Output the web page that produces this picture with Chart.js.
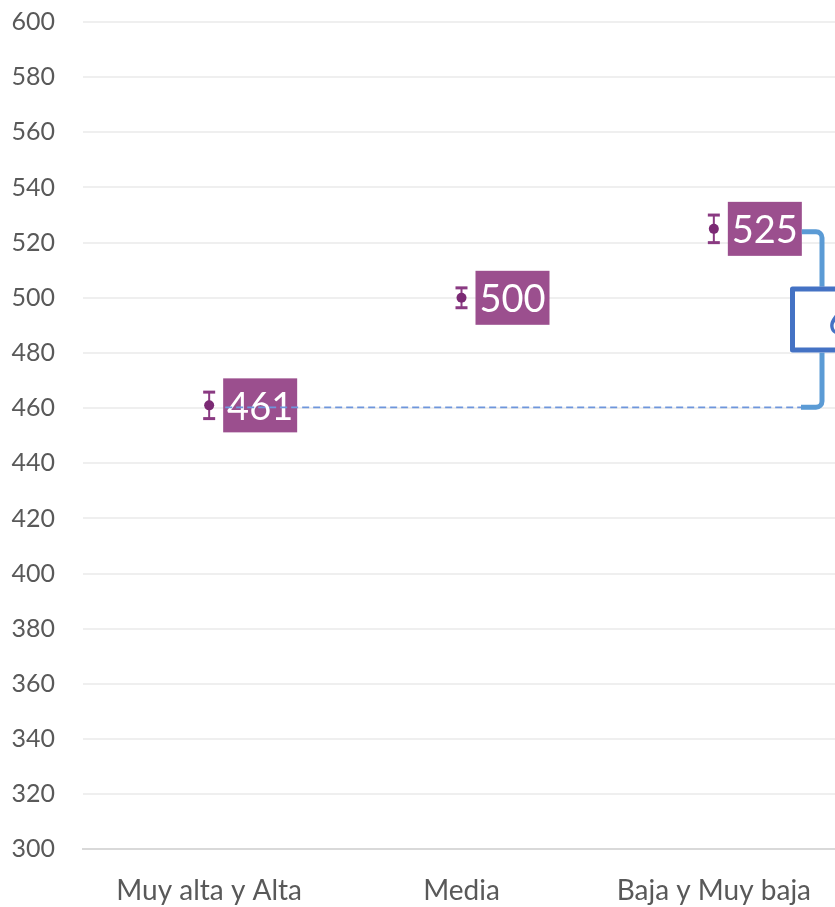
<!DOCTYPE html>
<html>
<head>
<meta charset="utf-8">
<script src="https://cdn.jsdelivr.net/npm/chart.js@4.4.1/dist/chart.umd.min.js"></script>
<style>
  html, body { margin: 0; padding: 0; background: #ffffff; overflow: hidden; }
  #wrap { position: relative; width: 835px; height: 907px; overflow: hidden; }
  #c { position: absolute; left: 0; top: -21px; }
</style>
</head>
<body>
<div id="wrap"><canvas id="c" width="845" height="960"></canvas></div>
<script>
// ---- data ----
const categories = ["Muy alta y Alta", "Media", "Baja y Muy baja"];
const means = [461, 500, 525];
const errors = [4.8, 3.6, 5.0];
const dataLabels = ["461", "500", "525"];
const diffLabel = "64";
const yMin = 300, yMax = 600, yStep = 20;

const annotPlugin = {
  id: 'annot',
  beforeDatasetsDraw(chart) {
    const ctx = chart.ctx;
    const meta = chart.getDatasetMeta(0);
    const ys = chart.scales.y;
    ctx.save();
    ctx.strokeStyle = '#8a3a82';
    meta.data.forEach((pt, i) => {
      const x = pt.x;
      const yt = ys.getPixelForValue(means[i] + errors[i]);
      const yb = ys.getPixelForValue(means[i] - errors[i]);
      ctx.lineWidth = 2;
      ctx.beginPath(); ctx.moveTo(x, yt); ctx.lineTo(x, yb); ctx.stroke();
      ctx.lineWidth = 3;
      ctx.beginPath(); ctx.moveTo(x - 6, yt); ctx.lineTo(x + 6, yt); ctx.stroke();
      ctx.beginPath(); ctx.moveTo(x - 6, yb); ctx.lineTo(x + 6, yb); ctx.stroke();
    });
    ctx.restore();
  },
  afterDatasetsDraw(chart) {
    const ctx = chart.ctx;
    const meta = chart.getDatasetMeta(0);
    const ys = chart.scales.y;
    ctx.save();
    // data labels
    const boxes = [];
    meta.data.forEach((pt, i) => {
      const bx = pt.x + 14, bw = 74, bh = 54;
      const by = pt.y - bh / 2;
      ctx.fillStyle = '#9b4f8e';
      ctx.fillRect(bx, by, bw, bh);
      ctx.fillStyle = '#ffffff';
      ctx.font = '38px Lato';
      ctx.textAlign = 'center';
      ctx.textBaseline = 'middle';
      ctx.fillText(dataLabels[i], bx + bw / 2, pt.y + 2);
      boxes.push({ x: bx, y: by, w: bw, h: bh });
    });
    // dashed reference line from first label
    const yLow = ys.getPixelForValue(means[0]) + 2;
    const yHigh = ys.getPixelForValue(means[2]) + 3;
    const xv = 822;
    ctx.strokeStyle = '#6e96dc';
    ctx.lineWidth = 1.6;
    ctx.setLineDash([7, 4]);
    ctx.beginPath();
    ctx.moveTo(boxes[0].x + 2, yLow);
    ctx.lineTo(801, yLow);
    ctx.stroke();
    ctx.setLineDash([]);
    // bracket
    ctx.strokeStyle = '#5b9bd5';
    ctx.lineWidth = 5;
    ctx.lineJoin = 'round';
    const r = 6;
    ctx.beginPath();
    ctx.moveTo(boxes[2].x + boxes[2].w, yHigh);
    ctx.arcTo(xv, yHigh, xv, yHigh + 20, r);
    ctx.arcTo(xv, yLow, xv - 20, yLow, r);
    ctx.lineTo(801, yLow);
    ctx.stroke();
    // difference box
    const midY = (yLow + yHigh) / 2;
    const bTop = midY - 33, bH = 66;
    ctx.fillStyle = '#ffffff';
    ctx.fillRect(790, bTop, 110, bH);
    ctx.strokeStyle = '#4472c4';
    ctx.lineWidth = 5;
    ctx.strokeRect(792.5, bTop + 2.5, 110, bH - 5);
    ctx.fillStyle = '#4472c4';
    ctx.font = '40px Lato';
    ctx.textAlign = 'left';
    ctx.textBaseline = 'middle';
    ctx.fillText(diffLabel, 828, midY + 2);
    ctx.restore();
  }
};

new Chart(document.getElementById('c'), {
  type: 'line',
  data: {
    labels: categories,
    datasets: [{
      data: means,
      showLine: false,
      pointRadius: 5,
      pointHoverRadius: 5,
      pointBackgroundColor: '#7b2a74',
      pointBorderColor: '#7b2a74',
      pointBorderWidth: 0
    }]
  },
  options: {
    responsive: false,
    animation: false,
    events: [],
    layout: { padding: { top: 8, right: 5, bottom: 6, left: 0 } },
    plugins: { legend: { display: false }, tooltip: { enabled: false } },
    scales: {
      x: {
        type: 'category',
        offset: true,
        grid: { display: false, drawTicks: false },
        border: { display: true, color: '#d9d9d9', width: 2 },
        ticks: { color: '#595959', font: { family: 'Lato', size: 28 }, padding: 25 }
      },
      y: {
        min: yMin, max: yMax,
        grid: { color: '#efefef', lineWidth: 2, drawTicks: false },
        border: { display: false },
        ticks: { stepSize: yStep, color: '#595959', font: { family: 'Lato', size: 25 }, padding: 28 },
        afterFit(s) { s.width = 83; }
      }
    }
  },
  plugins: [annotPlugin]
});
</script>
</body>
</html>
